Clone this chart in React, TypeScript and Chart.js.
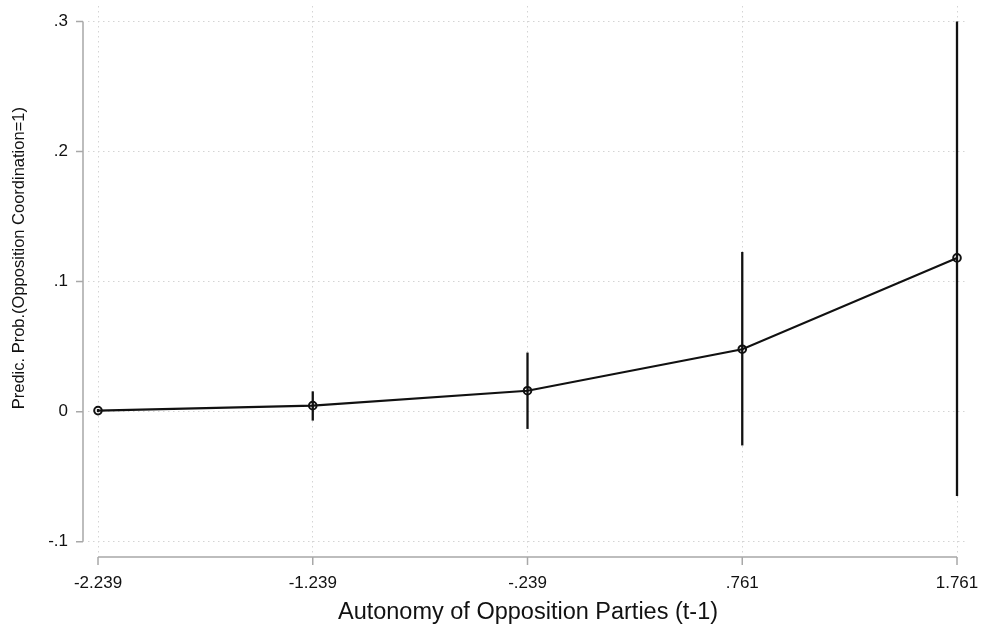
import { useEffect, useRef } from "react";
import { Chart, registerables } from "chart.js";

Chart.register(...registerables);

// Predicted probabilities with 95% confidence intervals
const autonomyValues = [-2.239, -1.239, -0.239, 0.761, 1.761];
const predictedProb = [0.0008, 0.0046, 0.0161, 0.048, 0.1182];
const ciLower = [-0.0004, -0.0069, -0.0133, -0.026, -0.0649];
const ciUpper = [0.002, 0.0156, 0.0454, 0.1228, 0.3];

const xTickLabels = ["-2.239", "-1.239", "-.239", ".761", "1.761"];
const yTickValues = [-0.1, 0, 0.1, 0.2, 0.3];
const yTickLabels = ["-.1", "0", ".1", ".2", ".3"];

const xTitle = "Autonomy of Opposition Parties (t-1)";
const yTitle = "Predic. Prob.(Opposition Coordination=1)";

const FONT = "'Liberation Sans', Arial, sans-serif";
const AXIS_COLOR = "#a8a8a8";
const GRID_COLOR = "#d4d4d4";
const INK = "#111111";

// Axis lines and tick marks sit just outside the plot region and span only the tick range
const offsetAxes = {
  id: "offsetAxes",
  beforeDatasetsDraw(chart: any) {
    const { ctx, chartArea, scales } = chart;
    const xs = scales.x;
    const ys = scales.y;
    ctx.save();
    ctx.strokeStyle = AXIS_COLOR;
    ctx.lineWidth = 1.5;
    ctx.setLineDash([]);

    const axX = chartArea.left - 5;
    const yTop = ys.getPixelForValue(yTickValues[yTickValues.length - 1]);
    const yBot = ys.getPixelForValue(yTickValues[0]);
    ctx.beginPath();
    ctx.moveTo(axX, yTop);
    ctx.lineTo(axX, yBot);
    yTickValues.forEach((v) => {
      const py = ys.getPixelForValue(v);
      ctx.moveTo(axX - 7, py);
      ctx.lineTo(axX, py);
    });
    ctx.stroke();

    const axY = chartArea.bottom + 4;
    const xL = xs.getPixelForValue(autonomyValues[0]);
    const xR = xs.getPixelForValue(autonomyValues[autonomyValues.length - 1]);
    ctx.beginPath();
    ctx.moveTo(xL, axY);
    ctx.lineTo(xR, axY);
    autonomyValues.forEach((v) => {
      const px = xs.getPixelForValue(v);
      ctx.moveTo(px, axY);
      ctx.lineTo(px, axY + 8);
    });
    ctx.stroke();

    // vertical axis title, set a little above the plot's centre
    const cy = chartArea.top + (chartArea.bottom - chartArea.top) * 0.461;
    ctx.translate(19, cy);
    ctx.rotate(-Math.PI / 2);
    ctx.fillStyle = INK;
    ctx.font = `16.5px ${FONT}`;
    ctx.textAlign = "center";
    ctx.textBaseline = "middle";
    ctx.fillText(yTitle, 0, 0);
    ctx.restore();
  },
};

export default function App() {
  const canvasRef = useRef<HTMLCanvasElement | null>(null);

  useEffect(() => {
    const canvas = canvasRef.current;
    if (!canvas) return;

    const ciSets = autonomyValues.map((x, i) => ({
      type: "line" as const,
      data: [
        { x, y: ciLower[i] },
        { x, y: ciUpper[i] },
      ],
      borderColor: INK,
      borderWidth: 2.3,
      pointRadius: 0,
      fill: false,
    }));

    const chart = new Chart(canvas, {
      type: "line",
      data: {
        datasets: [
          ...ciSets,
          {
            type: "line",
            data: autonomyValues.map((x, i) => ({ x, y: predictedProb[i] })),
            borderColor: INK,
            borderWidth: 2.1,
            pointRadius: 3.8,
            pointBorderWidth: 2,
            pointBorderColor: INK,
            pointBackgroundColor: "rgba(0,0,0,0)",
            fill: false,
            tension: 0,
          },
        ],
      },
      options: {
        responsive: false,
        animation: false,
        events: [],
        layout: { padding: { top: 4, right: 16, left: 0, bottom: 0 } },
        plugins: {
          legend: { display: false },
          tooltip: { enabled: false },
        },
        scales: {
          x: {
            type: "linear",
            min: -2.2856,
            max: 1.8122,
            afterBuildTicks: (scale: any) => {
              scale.ticks = autonomyValues.map((v) => ({ value: v }));
            },
            afterFit: (scale: any) => {
              scale.height = 75;
              scale.paddingLeft = 0;
              scale.paddingRight = 0;
            },
            ticks: {
              color: INK,
              font: { family: FONT, size: 17 },
              padding: 20,
              maxRotation: 0,
              autoSkip: false,
              callback: (v: any) => {
                const idx = autonomyValues.indexOf(Number(v));
                return idx >= 0 ? xTickLabels[idx] : "";
              },
            },
            grid: { color: GRID_COLOR, lineWidth: 1, drawTicks: false },
            border: { display: false, dash: [1.5, 3.5] },
            title: {
              display: true,
              text: xTitle,
              color: INK,
              font: { family: FONT, size: 23.5 },
              padding: { top: 0, bottom: 1 },
            },
          },
          y: {
            type: "linear",
            min: -0.1087,
            max: 0.3119,
            afterBuildTicks: (scale: any) => {
              scale.ticks = yTickValues.map((v) => ({ value: v }));
            },
            afterFit: (scale: any) => {
              scale.width = 88;
              scale.paddingTop = 0;
              scale.paddingBottom = 0;
            },
            ticks: {
              color: INK,
              font: { family: FONT, size: 17 },
              padding: 20,
              autoSkip: false,
              callback: (v: any) => {
                const idx = yTickValues.findIndex((t) => Math.abs(t - Number(v)) < 1e-9);
                return idx >= 0 ? yTickLabels[idx] : "";
              },
            },
            grid: { color: GRID_COLOR, lineWidth: 1, drawTicks: false },
            border: { display: false, dash: [1.5, 3.5] },
          },
        },
      },
      plugins: [offsetAxes],
    });

    return () => chart.destroy();
  }, []);

  return (
    <div style={{ position: "fixed", left: 0, top: 0, width: 984, height: 628, background: "#ffffff" }}>
      <canvas ref={canvasRef} width={984} height={628} style={{ display: "block" }} />
    </div>
  );
}
